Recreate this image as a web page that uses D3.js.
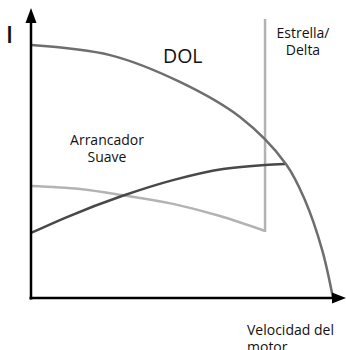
<!DOCTYPE html>
<html>
<head>
<meta charset="utf-8">
<script src="https://cdn.jsdelivr.net/npm/d3@7"></script>
<style>
  body { margin: 0; background: #fff; }
  text { font-family: "Open Sans", "Noto Sans", sans-serif; fill: #111; }
</style>
</head>
<body>
<div id="plot"></div>
<script>
// curves, speed and current in % of the DOL end points
const dolSpeed = [0, 26.2, 49.3, 69.2, 84.4, 90.7, 96.4, 100];
const dolCurrent = [100, 96.0, 85.4, 71.5, 53.0, 38.7, 19.0, 0];

const softSpeed = [0, 11.9, 30.1, 47.0, 63.6, 77.5, 84.1];
const softCurrent = [25.7, 32.0, 40.3, 46.6, 51.0, 52.6, 53.0];

// star / delta: the last point is the jump at switch-over
const starSpeed = [0, 16.2, 30.1, 47.0, 62.6, 77.5, 77.5];
const starCurrent = [44.3, 43.1, 40.7, 37.2, 32.4, 26.5, 110.3];

const svgWidth = 346;
const svgHeight = 350;
const left = 31;
const bottom = 298;

let xScale = d3.scaleLinear().domain([0, 100]).range([left, 333]);
let yScale = d3.scaleLinear().domain([0, 100]).range([bottom, 45]);

const svg = d3.select("#plot")
    .append("svg")
    .attr("width", svgWidth)
    .attr("height", svgHeight);

function zip(xs, ys) {
    return xs.map((x, i) => [x, ys[i]]);
}

function drawCurve(data, color, curve) {
    const line = d3.line()
        .x(d => xScale(d[0]))
        .y(d => yScale(d[1]))
        .curve(curve);
    svg.append("path")
        .datum(data)
        .attr("d", line)
        .attr("fill", "none")
        .attr("stroke", color)
        .attr("stroke-width", 2.5);
}

drawCurve(zip(starSpeed.slice(0, 6), starCurrent.slice(0, 6)), "#b3b3b3", d3.curveMonotoneX);
svg.append("line")
    .attr("x1", xScale(starSpeed[5]))
    .attr("x2", xScale(starSpeed[6]))
    .attr("y1", yScale(starCurrent[5]) + 1)
    .attr("y2", yScale(starCurrent[6]))
    .attr("stroke", "#b3b3b3")
    .attr("stroke-width", 2.5);

drawCurve(zip(softSpeed, softCurrent), "#484848", d3.curveMonotoneX);
drawCurve(zip(dolSpeed, dolCurrent), "#6e6e6e", d3.curveCatmullRom.alpha(0.5));

// axes with arrow heads
svg.append("line")
    .attr("x1", left).attr("x2", left)
    .attr("y1", bottom + 1.5).attr("y2", 20)
    .attr("stroke", "#000").attr("stroke-width", 2.5);
svg.append("line")
    .attr("x1", left - 1.5).attr("x2", 334)
    .attr("y1", bottom).attr("y2", bottom)
    .attr("stroke", "#000").attr("stroke-width", 2.5);
svg.append("path")
    .attr("d", `M${left},8 L${left + 5.5},23 L${left - 5.5},23 Z`)
    .attr("fill", "#000");
svg.append("path")
    .attr("d", `M346,${bottom} L332,${bottom - 5.5} L332,${bottom + 5.5} Z`)
    .attr("fill", "#000");

// labels
svg.append("text")
    .attr("x", 6).attr("y", 43)
    .attr("font-size", 23)
    .attr("font-weight", 600)
    .text("I");
svg.append("text")
    .attr("x", 163).attr("y", 63)
    .attr("font-size", 19.5)
    .text("DOL");

function multiLine(lines, x, y, anchor) {
    svg.append("text")
        .attr("text-anchor", anchor)
        .attr("font-size", 14)
        .selectAll("tspan")
        .data(lines)
        .enter()
        .append("tspan")
        .attr("x", x)
        .attr("y", (d, i) => y + i * 16.5)
        .text(d => d);
}

multiLine(["Estrella/", "Delta"], 303, 38, "middle");
multiLine(["Arrancador", "Suave"], 107, 145, "middle");
multiLine(["Velocidad del", "motor"], 247, 335, "start");
</script>
</body>
</html>
